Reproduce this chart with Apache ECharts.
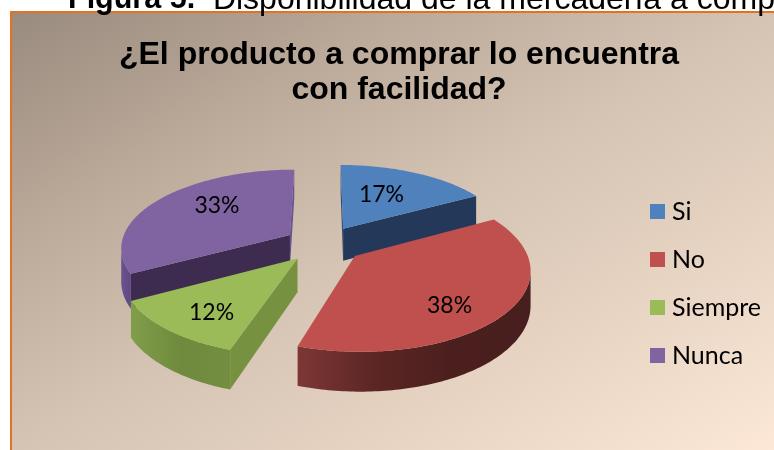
<!DOCTYPE html>
<html>
<head>
<meta charset="utf-8">
<style>html,body{margin:0;padding:0;background:#fff;overflow:hidden}#chart{width:774px;height:450px}</style>
<script src="https://cdn.jsdelivr.net/npm/echarts@6/dist/echarts.min.js"></script>
</head>
<body>
<div id="chart"></div>
<script>
// Survey answers, in percent
const categories = ['Si', 'No', 'Siempre', 'Nunca'];
const percentages = [17, 38, 12, 33];
const titleLines = ['¿El producto a comprar lo encuentra', 'con facilidad?'];

// Face colours for each slice
const topColors = ['#4f81bd', '#c0504d', '#9bbb59', '#8064a2'];
const startWallColors = ['#2f4d7a', '#5e2725', '#76913f', '#3d2b50'];
const endWallColors = ['#24395a', '#5e2725', '#76913f', '#6a5290'];
const rimStops = [
  ['#2f4d7a', '#2f4d7a'],
  ['#7c3735', '#5b2624', '#4b1f1e', '#471f1e'],
  ['#809e4a', '#6f8a3d', '#738e40'],
  ['#6a5290', '#5f4a85']
];
// Label placement inside each slice: radius fraction and angle shift from the slice middle
const labelRadius = [0.56, 0.74, 0.74, 0.63];
const labelShift = [-3, 9.4, -3.6, 10];

// Projection of the tilted disc
const view = { cx: 323.5, cy: 244, radius: 169, squash: 0.459, persp: 0.15, explode: 0.235, depth: 33 };

function project(u, v, drop) {
  const s = 1 / (1 - view.persp * v);
  return [
    view.cx + u * view.radius * s,
    view.cy + v * view.radius * view.squash * s + drop * s
  ];
}
function polar(deg, r, ox, oy) {
  const a = deg * Math.PI / 180;
  return [ox + r * Math.sin(a), oy - r * Math.cos(a)];
}
function shoelace(p) {
  let sum = 0;
  for (let i = 0; i < p.length; i++) {
    const q = p[(i + 1) % p.length];
    sum += p[i][0] * q[1] - q[0] * p[i][1];
  }
  return sum;
}

const total = percentages.reduce((a, b) => a + b, 0);
const startAngles = percentages.map((_, i) =>
  percentages.slice(0, i).reduce((a, b) => a + b, 0) / total * 360);

function renderSlice(i) {
  const a0 = startAngles[i];
  const a1 = a0 + percentages[i] / total * 360;
  const mid = (a0 + a1) / 2;
  const [ox, oy] = polar(mid, view.explode, 0, 0);
  const top = (d, r) => { const p = polar(d, r, ox, oy); return project(p[0], p[1], 0); };
  const low = (d, r) => { const p = polar(d, r, ox, oy); return project(p[0], p[1], view.depth); };
  const steps = Math.max(8, Math.round(a1 - a0));
  const angles = [];
  for (let k = 0; k <= steps; k++) angles.push(a0 + (a1 - a0) * k / steps);

  const children = [];
  // Curved outer wall: only the segments turned towards the viewer
  const runs = [];
  let run = null;
  for (let k = 0; k < steps; k++) {
    const q = [top(angles[k], 1), top(angles[k + 1], 1), low(angles[k + 1], 1), low(angles[k], 1)];
    if (shoelace(q) < 0) {
      if (!run) { run = [angles[k]]; runs.push(run); }
      run.push(angles[k + 1]);
    } else run = null;
  }
  runs.forEach(r => {
    const pts = r.map(d => top(d, 1)).concat(r.slice().reverse().map(d => low(d, 1)));
    const stops = rimStops[i];
    children.push({
      type: 'polygon',
      shape: { points: pts },
      style: {
        fill: new echarts.graphic.LinearGradient(0, 0, 1, 0,
          stops.map((c, n) => ({ offset: n / (stops.length - 1), color: c })))
      }
    });
  });
  // Flat cut walls of the wedge
  const wall = (d, color, sign) => {
    const q = [top(d, 0), top(d, 1), low(d, 1), low(d, 0)];
    if (shoelace(q) * sign > 0) {
      children.push({ type: 'polygon', shape: { points: q }, style: { fill: color } });
    }
  };
  wall(a0, startWallColors[i], -1);
  wall(a1, endWallColors[i], 1);
  // Top face
  children.push({
    type: 'polygon',
    shape: { points: [top(a0, 0)].concat(angles.map(d => top(d, 1))) },
    style: { fill: topColors[i] }
  });
  // Percent label
  const lp = top(mid + labelShift[i], labelRadius[i]);
  children.push({
    type: 'text',
    x: lp[0], y: lp[1],
    style: {
      text: percentages[i] + '%',
      fill: '#000',
      font: '23px Lato',
      align: 'center',
      verticalAlign: 'middle'
    }
  });
  return { type: 'group', children };
}

const chart = echarts.init(document.getElementById('chart'), null, { renderer: 'canvas' });
chart.setOption({
  animation: false,
  backgroundColor: '#ffffff',
  graphic: [{
    type: 'rect',
    z: -1,
    shape: { x: 11, y: 12, width: 800, height: 480 },
    style: {
      // Diagonal wash running from the upper left corner to the lower right corner
      fill: new echarts.graphic.LinearGradient(11, 12, 389, 671, [
        { offset: 0, color: '#998b7f' },
        { offset: 0.25, color: '#baa898' },
        { offset: 0.5, color: '#d5c3b3' },
        { offset: 0.75, color: '#e8d5c4' },
        { offset: 1, color: '#fde8d7' }
      ], true),
      stroke: '#e2731f',
      lineWidth: 2
    }
  }],
  title: [{
    text: titleLines.join('\n'),
    left: 394,
    top: 33,
    textAlign: 'center',
    textStyle: { fontFamily: 'Liberation Sans', fontWeight: 'bold', fontSize: 32, lineHeight: 35, color: '#000' }
  }, {
    text: '{b|Figura 5.}{n|  Disponibilidad de la mercadería a comp}',
    left: 63,
    top: -21,
    textStyle: {
      rich: {
        b: { fontFamily: 'Liberation Sans', fontWeight: 'bold', fontSize: 30.5, color: '#000' },
        n: { fontFamily: 'Liberation Sans', fontWeight: 'normal', fontSize: 32, color: '#000' }
      }
    }
  }],
  legend: {
    orient: 'vertical',
    left: 645,
    top: 194,
    itemWidth: 15,
    itemHeight: 15,
    itemGap: 23,
    icon: 'rect',
    data: categories,
    textStyle: { fontFamily: 'Lato', fontSize: 25, color: '#000', padding: [0, 0, 0, 2] }
  },
  series: categories.map((name, i) => ({
    type: 'custom',
    name,
    coordinateSystem: 'none',
    z: 3 - Math.cos((startAngles[i] + percentages[i] / total * 180) * Math.PI / 180),
    itemStyle: { color: topColors[i] },
    data: [[percentages[i]]],
    renderItem: () => renderSlice(i)
  }))
});
</script>
</body>
</html>
